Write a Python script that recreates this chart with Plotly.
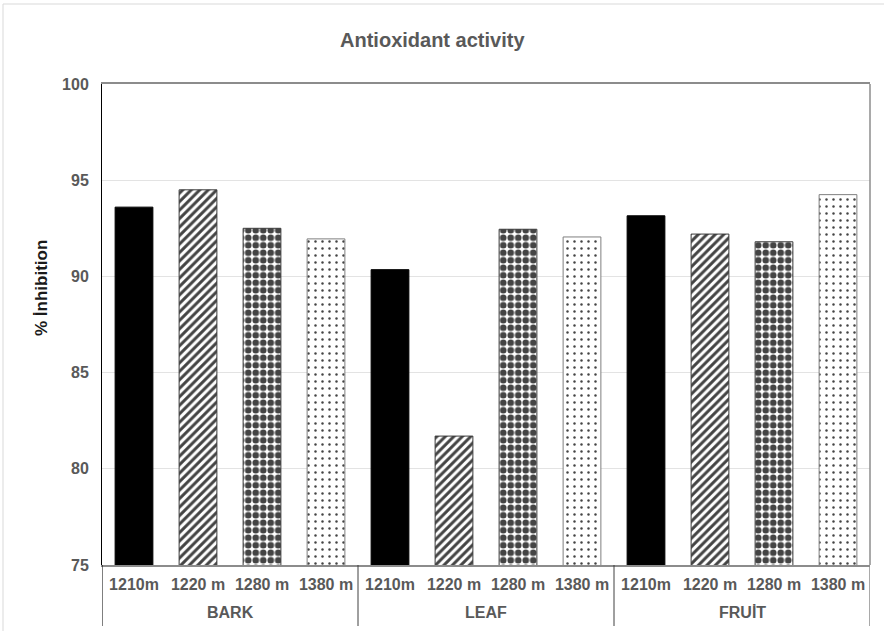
import plotly.graph_objects as go

# Sample sources and sampling altitudes
sources = ["BARK", "LEAF", "FRUİT"]
altitudes = ["1210m", "1220 m", "1280 m", "1380 m"]

# % inhibition per source, one value per altitude
bark = [93.6, 94.5, 92.5, 91.95]
leaf = [90.35, 81.7, 92.45, 92.05]
fruit = [93.15, 92.2, 91.8, 94.25]

y_ticks = [75, 80, 85, 90, 95, 100]

W, H = 884, 631
L, R, T, B = 102, 14, 84, 66
PH = H - T - B

values = bark + leaf + fruit
n_alt = len(altitudes)
n = len(sources)
pos = list(range(n * n_alt))
tick_text = altitudes * n

# per-altitude fill style: solid, diagonal hatch, dense dots, sparse dots
pat_shape = ["", "/", ".", "."]
pat_fg = ["#000000", "#000000", "#000000", "#7a7a7a"]
pat_sol = [0.0, 0.5, 0.62, 0.1]
pat_size = [8, 6, 7.5, 7]
base_col = ["#000000", "#ffffff", "#ffffff", "#ffffff"]
edge_col = ["#000000", "#3a3a3a", "#3a3a3a", "#7f7f7f"]

fig = go.Figure(
    go.Bar(
        x=pos,
        y=values,
        customdata=[[s, a] for s in sources for a in altitudes],
        hovertemplate="%{customdata[0]} %{customdata[1]}: %{y}<extra></extra>",
        marker=dict(
            color=base_col * n,
            line=dict(color=edge_col * n, width=1),
            pattern=dict(
                shape=pat_shape * n,
                fgcolor=pat_fg * n,
                fgopacity=1,
                solidity=pat_sol * n,
                size=pat_size * n,
                fillmode="overlay",
            ),
        ),
        showlegend=False,
    )
)

gray = "#595959"
font = "Liberation Sans"

# group captions under the altitude labels, and separators between groups
annotations = [
    dict(
        text=f"<b>{s}</b>",
        x=(i * n_alt + (i + 1) * n_alt - 1) / 2,
        xref="x",
        yref="paper",
        y=-(612 - (T + PH)) / PH,
        xanchor="center",
        yanchor="middle",
        showarrow=False,
        font=dict(family=font, size=16, color=gray),
    )
    for i, s in enumerate(sources)
]
annotations.append(
    dict(
        text="<b>% İnhibition</b>",
        textangle=-90,
        xref="paper",
        yref="paper",
        x=(41 - L) / (W - L - R),
        y=1 - (288 - T) / PH,
        xanchor="center",
        yanchor="middle",
        showarrow=False,
        font=dict(family=font, size=17, color="#1a1a1a"),
    )
)

sep_bottom = -(626 - (T + PH)) / PH
shapes = [
    dict(type="line", xref="x", yref="paper",
         x0=k * n_alt - 0.5, x1=k * n_alt - 0.5, y0=0, y1=sep_bottom,
         line=dict(color="#000000" if k == 0 else ("#8c8c8c" if k == n else "#404040"),
                   width=1.5 if k == n else 1))
    for k in range(n + 1)
]
shapes += [
    # right edge of the plot frame
    dict(type="line", xref="paper", yref="paper", x0=1, x1=1, y0=0, y1=1,
         line=dict(color="#8c8c8c", width=1.5)),
    # outer chart border
    dict(type="rect", xref="paper", yref="paper",
         x0=(3 - L) / (W - L - R), x1=(W + 10 - L) / (W - L - R),
         y0=-(B + 10) / PH, y1=1 + (T - 4) / PH,
         line=dict(color="#d9d9d9", width=1), layer="below"),
]

fig.update_layout(
    width=W,
    height=H,
    margin=dict(l=L, r=R, t=T, b=B),
    paper_bgcolor="white",
    plot_bgcolor="white",
    bargap=0.41,
    title=dict(
        text="<b>Antioxidant activity</b>",
        x=0.489,
        xref="container",
        xanchor="center",
        y=1 - 40 / H,
        yref="container",
        yanchor="middle",
        font=dict(family=font, size=20, color=gray),
    ),
    xaxis=dict(
        range=[-0.5, n * n_alt - 0.5],
        tickvals=pos,
        ticktext=[f"<b>{t}</b>" for t in tick_text],
        automargin=False,
        tickangle=0,
        showline=True,
        linecolor="#8c8c8c",
        linewidth=1.5,
        mirror=True,
        showgrid=False,
        zeroline=False,
        ticks="",
        ticklabelstandoff=4,
        tickfont=dict(family=font, size=16, color=gray),
    ),
    yaxis=dict(
        range=[75, 100],
        tickvals=y_ticks,
        automargin=False,
        showline=True,
        linecolor="#000000",
        linewidth=1,
        showgrid=True,
        gridcolor="#e3e3e3",
        gridwidth=1,
        ticks="",
        ticklen=0,
        ticklabelstandoff=9,
        tickfont=dict(family=font, size=16, color=gray, weight="bold"),
        zeroline=False,
    ),
    annotations=annotations,
    shapes=shapes,
)

fig.write_html("out.html")
